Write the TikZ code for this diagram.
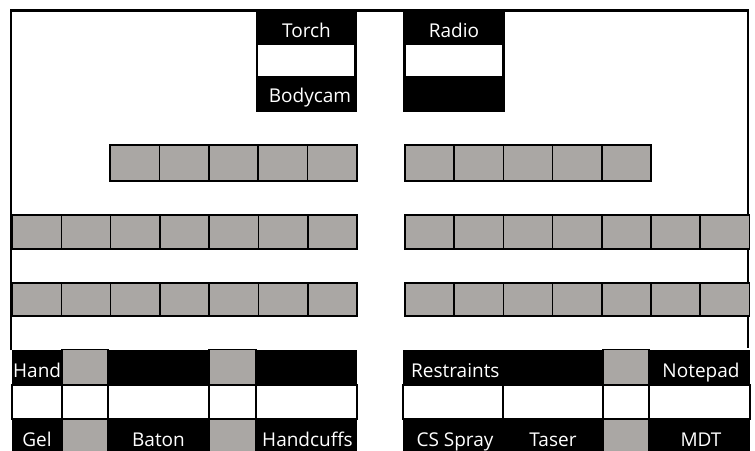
\documentclass[tikz,border=0pt]{standalone}
\usepackage{fontspec}
\setmainfont{Open Sans}
\definecolor{cellgray}{RGB}{170,167,164}
\tikzset{
  gcell/.style={fill=cellgray, draw=black, line width=1.6pt},
  wcell/.style={fill=white, draw=black, line width=1.6pt},
  bblock/.style={fill=black},
  lbl/.style={text=white, font=\fontsize{19}{21}\selectfont, inner sep=0pt, anchor=base},
  framestyle/.style={draw=black, line width=2.6pt}
}
\begin{document}
\begin{tikzpicture}[x=1pt,y=-1pt]
\useasboundingbox (0,0) rectangle (755,450);
\clip (0,0) rectangle (755,450);
% outer frame
\draw[framestyle] (11,350) -- (11,10.5) -- (748,10.5) -- (748,348);
% Torch / Bodycam block
\path[bblock] (256,12) rectangle (357,112);
\fill[white] (258,45) rectangle (354,76);
% Radio block
\path[bblock] (403,12) rectangle (505,112);
\fill[white] (406,45) rectangle (502,76);
% gray rows
\foreach \i in {0,...,4} {
  \draw[gcell] ({110+49.4*\i},145) rectangle ++(49.4,36);
  \draw[gcell] ({405+49.2*\i},145) rectangle ++(49.2,36);
}
\foreach \i in {0,...,6} {
  \draw[gcell] ({12+49.3*\i},215) rectangle ++(49.3,34);
  \draw[gcell] ({405+49.2*\i},215) rectangle ++(49.2,34);
  \draw[gcell] ({12+49.3*\i},283) rectangle ++(49.3,33);
  \draw[gcell] ({405+49.2*\i},283) rectangle ++(49.2,33);
}
% bottom-left block
\path[bblock] (12,349.5) rectangle (357,455);
\draw[gcell] (62,349.5) rectangle (108,385);
\draw[gcell] (209,349.5) rectangle (256,385);
\draw[gcell] (62,419) rectangle (108,456);
\draw[gcell] (209,419) rectangle (256,456);
\draw[wcell] (12,385) rectangle (62,419);
\draw[wcell] (62,385) rectangle (108,419);
\draw[wcell] (108,385) rectangle (209,419);
\draw[wcell] (209,385) rectangle (256,419);
\draw[wcell] (256,385) rectangle (357,419);
% bottom-right block
\path[bblock] (403,349.5) rectangle (750,455);
\draw[gcell] (603,349.5) rectangle (649,385);
\draw[gcell] (603,419) rectangle (649,456);
\draw[wcell] (403,385) rectangle (503,419);
\draw[wcell] (503,385) rectangle (603,419);
\draw[wcell] (603,385) rectangle (649,419);
\draw[wcell] (649,385) rectangle (750,419);
% labels
\node[lbl] (torch) at (306.5,37) {Torch};
\node[lbl] (bodycam) at (310,102) {Bodycam};
\node[lbl] (radio) at (454,37) {Radio};
\node[lbl, anchor=base west] (hand) at (13,377) {Hand};
\node[lbl] (gel) at (37,446) {Gel};
\node[lbl] (baton) at (158.5,446) {Baton};
\node[lbl] (handcuffs) at (307.5,446) {Handcuffs};
\node[lbl, anchor=base west] (restraints) at (411,377) {Restraints};
\node[lbl] (notepad) at (701,377) {Notepad};
\node[lbl] (csspray) at (455,446) {CS Spray};
\node[lbl] (taser) at (553,446) {Taser};
\node[lbl] (mdt) at (701,446) {MDT};
\end{tikzpicture}
\end{document}
